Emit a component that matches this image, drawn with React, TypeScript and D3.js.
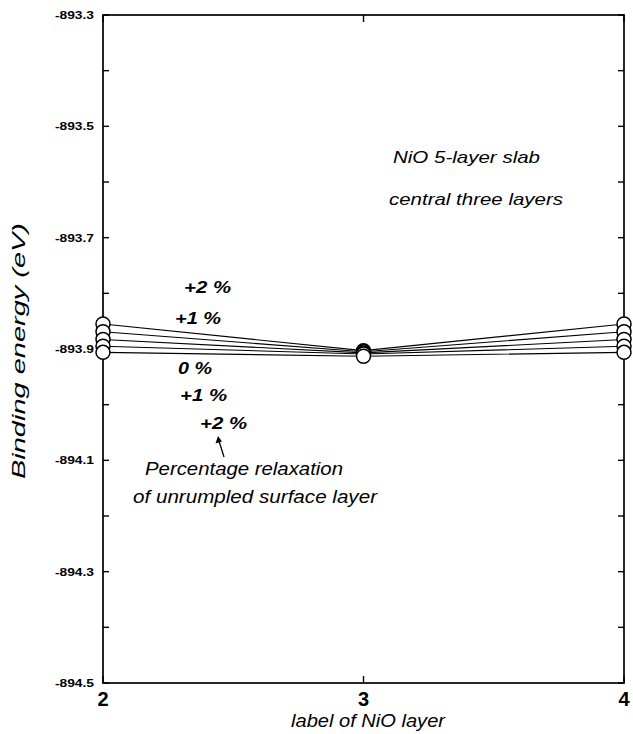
import React, { useEffect } from "react";
import * as d3 from "d3";

// NiO layer labels along x
const layers = [2, 3, 4];

// binding energy (eV) per relaxation curve, at layers 2, 3, 4
const curve1 = [-893.855, -893.903, -893.855];
const curve2 = [-893.869, -893.905, -893.869];
const curve3 = [-893.883, -893.907, -893.883];
const curve4 = [-893.895, -893.909, -893.895];
const curve5 = [-893.906, -893.913, -893.906];
const curves = [curve1, curve2, curve3, curve4, curve5];

const yTickLabels = [-893.3, -893.5, -893.7, -893.9, -894.1, -894.3, -894.5];
const yMinorTicks = d3.range(0, 13).map((i) => -893.3 - i * 0.1);

const FONT = "'Liberation Sans', Arial, Helvetica, sans-serif";

const App = () => {
  useEffect(() => {
    document.body.style.margin = "0";
  }, []);

  const width = 633;
  const height = 734;
  const margin = { top: 15, right: 9, bottom: 51, left: 103 };

  const x = d3
    .scaleLinear()
    .domain([2, 4])
    .range([margin.left, width - margin.right]);
  const y = d3
    .scaleLinear()
    .domain([-894.5, -893.3])
    .range([height - margin.bottom, margin.top]);

  const line = d3
    .line<number>()
    .x((_, i) => x(layers[i]))
    .y((d) => y(d));

  const x0 = x(2);
  const x1 = x(4);
  const y0 = y(-894.5);
  const y1 = y(-893.3);

  const txt = (
    s: string,
    tx: number,
    ty: number,
    len: number,
    size = 17,
    weight = "normal"
  ) => (
    <text
      x={tx}
      y={ty}
      fontSize={size}
      fontStyle="italic"
      fontWeight={weight}
      textLength={len}
      lengthAdjust="spacingAndGlyphs"
    >
      {s}
    </text>
  );

  return (
    <svg width={width} height={height} style={{ display: "block", fontFamily: FONT }}>
      <rect width={width} height={height} fill="#fff" />

      {/* frame */}
      <rect
        x={x0}
        y={y1}
        width={x1 - x0}
        height={y0 - y1}
        fill="none"
        stroke="#000"
        strokeWidth={1.7}
      />

      {/* y ticks, both sides */}
      {yMinorTicks.map((t) => (
        <g key={t}>
          <line x1={x0} x2={x0 + 6} y1={y(t)} y2={y(t)} stroke="#000" strokeWidth={1.4} />
          <line x1={x1} x2={x1 - 6} y1={y(t)} y2={y(t)} stroke="#000" strokeWidth={1.4} />
        </g>
      ))}
      {yTickLabels.map((t) => (
        <text
          key={t}
          x={x0 - 9}
          y={y(t) + 4}
          textAnchor="end"
          fontSize={11}
          fontWeight="bold"
          textLength={39}
          lengthAdjust="spacingAndGlyphs"
        >
          {t.toFixed(1)}
        </text>
      ))}

      {/* x ticks */}
      {layers.map((l) => (
        <g key={l}>
          <line x1={x(l)} x2={x(l)} y1={y0} y2={y0 - 7} stroke="#000" strokeWidth={1.4} />
          <line x1={x(l)} x2={x(l)} y1={y1} y2={y1 + 7} stroke="#000" strokeWidth={1.4} />
          <text x={x(l)} y={y0 + 23} textAnchor="middle" fontSize={20} fontWeight="bold">
            {l}
          </text>
        </g>
      ))}

      {/* curves */}
      {curves.map((c, i) => (
        <path key={i} d={line(c) || ""} fill="none" stroke="#000" strokeWidth={1.1} />
      ))}
      {curves.map((c, i) =>
        c.map((v, j) => (
          <circle
            key={`${i}-${j}`}
            cx={x(layers[j])}
            cy={y(v)}
            r={7}
            fill="#fff"
            stroke="#000"
            strokeWidth={1.5}
          />
        ))
      )}

      {/* annotations */}
      {txt("NiO 5-layer slab", 393, 163, 147)}
      {txt("central three layers", 389, 205, 174)}
      {txt("+2 %", 184, 293, 47, 17, "bold")}
      {txt("+1 %", 175, 324, 46, 17, "bold")}
      {txt("0 %", 178, 374, 34, 17, "bold")}
      {txt("+1 %", 180, 401, 47, 17, "bold")}
      {txt("+2 %", 200, 429, 47, 17, "bold")}
      {txt("Percentage relaxation", 145, 475, 198, 18)}
      {txt("of unrumpled surface layer", 133, 503, 244, 18)}

      {/* arrow to +2 % */}
      <line x1={224} y1={457} x2={219} y2={441} stroke="#000" strokeWidth={1.3} />
      <path d="M 218 436 L 215.5 443.5 L 222 441.5 Z" fill="#000" />

      {/* axis titles */}
      {txt("label of NiO layer", 291, 727, 154, 18)}
      <g transform={`translate(25, ${(y0 + y1) / 2 + 2}) rotate(-90)`}>
        <text
          x={0}
          y={0}
          textAnchor="middle"
          fontSize={18}
          fontStyle="italic"
          textLength={256}
          lengthAdjust="spacingAndGlyphs"
        >
          Binding energy (eV)
        </text>
      </g>
    </svg>
  );
};

export default App;
